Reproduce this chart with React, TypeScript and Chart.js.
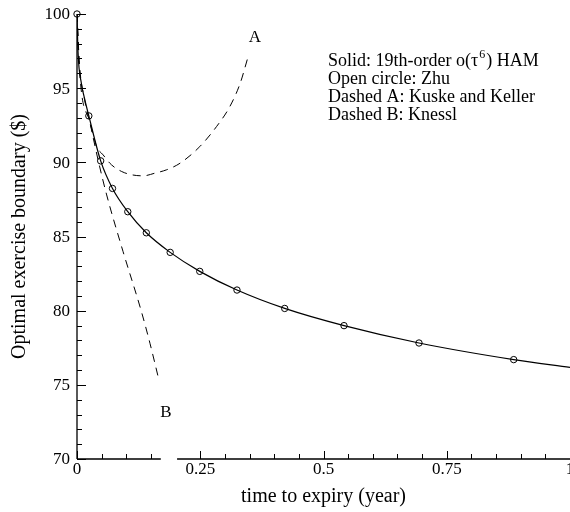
import React, { useEffect, useRef } from "react";
import { Chart, registerables } from "chart.js";

Chart.register(...registerables);

// Solid: 19th-order HAM
const hamT = [0, 0.002, 0.009, 0.015, 0.024, 0.048, 0.072, 0.103, 0.1406, 0.189, 0.249, 0.3245, 0.4213, 0.5416, 0.6937, 0.8858, 1.0];
const hamB = [100, 97.5, 95.3, 94.35, 93.13, 90.1, 88.24, 86.67, 85.25, 83.93, 82.65, 81.39, 80.15, 78.99, 77.82, 76.7, 76.18];

// Open circle: Zhu
const zhuT = [0, 0.024, 0.048, 0.072, 0.103, 0.1406, 0.189, 0.249, 0.3245, 0.4213, 0.5416, 0.6937, 0.8858];
const zhuB = [100, 93.13, 90.1, 88.24, 86.67, 85.25, 83.93, 82.65, 81.39, 80.15, 78.99, 77.82, 76.7];

// Dashed A: Kuske and Keller
const kkT = [0, 0.005, 0.015, 0.03, 0.04, 0.053, 0.07, 0.0907, 0.111, 0.1345, 0.158, 0.182, 0.209, 0.249, 0.283, 0.31, 0.331, 0.346];
const kkB = [100, 96.6, 94.3, 92.2, 91.06, 90.5, 89.83, 89.38, 89.16, 89.09, 89.27, 89.5, 89.94, 91.06, 92.41, 93.76, 95.33, 97.0];

// Dashed B: Knessl
const knT = [0, 0.006, 0.0264, 0.0432, 0.0602, 0.0933, 0.131, 0.148, 0.165];
const knB = [100, 95.8, 92.66, 90.1, 87.8, 84.0, 79.9, 77.8, 75.49];

// Curve labels
const curveLabels = ["A", "B"];
const curveLabelT = [0.361, 0.1805];
const curveLabelB = [98.38, 73.1];

// Axis ticks
const xMajorTicks = [0, 0.25, 0.5, 0.75, 1];
const xTickLabels = ["0", "0.25", "0.5", "0.75", "1"];
const xMinorTicks = [0.05, 0.1, 0.15, 0.3, 0.35, 0.4, 0.45, 0.55, 0.6, 0.65, 0.7, 0.8, 0.85, 0.9, 0.95];
const xAxisGap = [0.17, 0.203];
const yMajorTicks = [70, 75, 80, 85, 90, 95, 100];
const yTickLabels = ["70", "75", "80", "85", "90", "95", "100"];
const yMinorTicks = [71, 72, 73, 74, 76, 77, 78, 79, 81, 82, 83, 84, 86, 87, 88, 89, 91, 92, 93, 94, 96, 97, 98, 99];

const legendLines = ["Solid: 19th-order o(τ", "Open circle: Zhu", "Dashed A: Kuske and Keller", "Dashed B: Knessl"];

const FONT = '"Liberation Serif", "Times New Roman", serif';

const zip = (t: number[], b: number[]) => t.map((v, i) => ({ x: v, y: b[i] }));

const axesPlugin = {
  id: "customAxes",
  afterDatasetsDraw(chart: any) {
    const ctx = chart.ctx;
    const xs = chart.scales.x;
    const ys = chart.scales.y;
    const x0 = xs.getPixelForValue(0);
    const yBot = ys.getPixelForValue(70);
    const yTop = ys.getPixelForValue(100);
    ctx.save();
    ctx.strokeStyle = "#000";
    ctx.lineWidth = 1.3;
    ctx.beginPath();
    ctx.moveTo(x0, yTop);
    ctx.lineTo(x0, yBot);
    ctx.moveTo(x0, yBot);
    ctx.lineTo(xs.getPixelForValue(xAxisGap[0]), yBot);
    ctx.moveTo(xs.getPixelForValue(xAxisGap[1]), yBot);
    ctx.lineTo(xs.getPixelForValue(1), yBot);
    ctx.stroke();
    ctx.lineWidth = 1;
    ctx.beginPath();
    xMajorTicks.forEach((v) => {
      const p = Math.round(xs.getPixelForValue(v)) + 0.5;
      ctx.moveTo(p, yBot);
      ctx.lineTo(p, yBot - 8);
    });
    xMinorTicks.forEach((v) => {
      const p = Math.round(xs.getPixelForValue(v)) + 0.5;
      ctx.moveTo(p, yBot);
      ctx.lineTo(p, yBot - 5);
    });
    yMajorTicks.forEach((v) => {
      const p = Math.round(ys.getPixelForValue(v)) + 0.5;
      ctx.moveTo(x0, p);
      ctx.lineTo(x0 + 9, p);
    });
    yMinorTicks.forEach((v) => {
      const p = Math.round(ys.getPixelForValue(v)) + 0.5;
      ctx.moveTo(x0, p);
      ctx.lineTo(x0 + 5, p);
    });
    ctx.stroke();

    ctx.fillStyle = "#000";
    ctx.font = `17px ${FONT}`;
    ctx.textAlign = "center";
    ctx.textBaseline = "middle";
    xMajorTicks.forEach((v, i) => {
      ctx.fillText(xTickLabels[i], xs.getPixelForValue(v), yBot + 11);
    });
    ctx.textAlign = "right";
    yMajorTicks.forEach((v, i) => {
      ctx.fillText(yTickLabels[i], x0 - 7, ys.getPixelForValue(v) + 1);
    });

    ctx.textAlign = "center";
    curveLabels.forEach((s, i) => {
      ctx.fillText(s, xs.getPixelForValue(curveLabelT[i]), ys.getPixelForValue(curveLabelB[i]));
    });

    ctx.textAlign = "left";
    ctx.textBaseline = "alphabetic";
    const lx = 328;
    const ly = [66, 84, 102, 120];
    legendLines.forEach((s, i) => {
      ctx.font = `18px ${FONT}`;
      ctx.fillText(s, lx, ly[i]);
      if (i === 0) {
        const w = ctx.measureText(s).width;
        ctx.font = `12px ${FONT}`;
        ctx.fillText("6", lx + w + 1, ly[i] - 8);
        const w2 = ctx.measureText("6").width;
        ctx.font = `18px ${FONT}`;
        ctx.fillText(") HAM", lx + w + w2 + 2, ly[i]);
      }
    });
    ctx.restore();
  },
};

export default function App() {
  const ref = useRef<HTMLCanvasElement | null>(null);
  useEffect(() => {
    if (!ref.current) return;
    const chart = new Chart(ref.current, {
      type: "line",
      data: {
        datasets: [
          {
            label: "HAM",
            data: zip(hamT, hamB),
            borderColor: "#000",
            borderWidth: 1.2,
            pointRadius: 0,
            cubicInterpolationMode: "monotone",
            fill: false,
          },
          {
            label: "Kuske and Keller",
            data: zip(kkT, kkB),
            borderColor: "#000",
            borderWidth: 1,
            borderDash: [8, 6],
            pointRadius: 0,
            cubicInterpolationMode: "monotone",
            fill: false,
          },
          {
            label: "Knessl",
            data: zip(knT, knB),
            borderColor: "#000",
            borderWidth: 1,
            borderDash: [8, 6],
            pointRadius: 0,
            cubicInterpolationMode: "monotone",
            fill: false,
          },
          {
            label: "Zhu",
            data: zip(zhuT, zhuB),
            showLine: false,
            borderColor: "#000",
            backgroundColor: "rgba(0,0,0,0)",
            borderWidth: 1,
            pointRadius: 3.2,
            pointStyle: "circle",
            clip: false,
          },
        ],
      } as any,
      options: {
        animation: false,
        responsive: false,
        devicePixelRatio: 1,
        layout: { autoPadding: false, padding: { top: 14, left: 0, right: 0, bottom: 0 } },
        plugins: { legend: { display: false }, tooltip: { enabled: false } },
        scales: {
          x: {
            type: "linear",
            min: 0,
            max: 1,
            grid: { display: false, drawTicks: false, tickLength: 0 },
            border: { display: false },
            ticks: { display: false },
            title: {
              display: true,
              text: "time to expiry (year)",
              color: "#000",
              font: { family: FONT, size: 20 },
              padding: { top: 0, bottom: 3 },
            },
            afterFit: (s: any) => {
              s.height = 53;
              s.paddingLeft = 0;
              s.paddingRight = 0;
            },
          },
          y: {
            type: "linear",
            min: 70,
            max: 100,
            grid: { display: false, drawTicks: false, tickLength: 0 },
            border: { display: false },
            ticks: { display: false },
            title: {
              display: true,
              text: "Optimal exercise boundary ($)",
              color: "#000",
              font: { family: FONT, size: 20 },
              padding: { top: 8, bottom: 0 },
            },
            afterFit: (s: any) => {
              s.width = 77;
              s.paddingTop = 0;
              s.paddingBottom = 0;
            },
          },
        },
      } as any,
      plugins: [axesPlugin],
    });
    return () => chart.destroy();
  }, []);
  return (
    <div style={{ position: "absolute", left: 0, top: 0, width: 570, height: 512, background: "#fff" }}>
      <canvas ref={ref} width={570} height={512} />
    </div>
  );
}
